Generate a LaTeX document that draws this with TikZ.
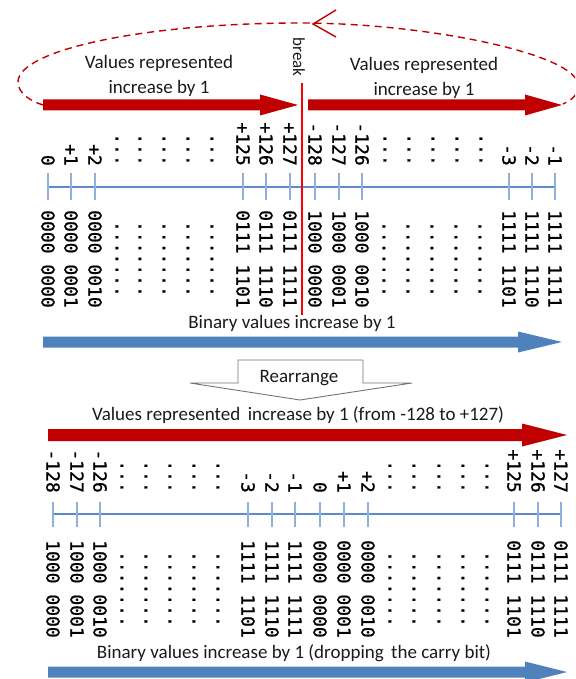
\documentclass[tikz,border=0pt]{standalone}
\usepackage{fontspec}
\setmainfont{Carlito}
\newfontfamily\monof[FakeBold=1]{DejaVu Sans Mono}
\definecolor{darkred}{HTML}{C00000}
\definecolor{brightred}{HTML}{FF0000}
\definecolor{myblue}{HTML}{4F81BD}
\definecolor{axisblue}{HTML}{5B8BC8}
\definecolor{tickblue}{HTML}{8EB0DB}
\definecolor{txtcol}{HTML}{1A1A1A}
\newcommand\myblockarrow[7]{%
  \fill[#7] (#1,#4-#5) -- (#2,#4-#5) -- (#2,#4-#6) -- (#3,#4) -- (#2,#4+#6) -- (#2,#4+#5) -- (#1,#4+#5) -- cycle;}
\begin{document}
\begin{tikzpicture}[x=1pt,y=-1pt,
  lbl/.style={font=\monof\fontsize{18}{18}\selectfont, rotate=-90, inner sep=0pt, text=black},
  txt/.style={font=\fontsize{19}{25}\selectfont, align=center, text=txtcol, inner sep=0pt},
  axisline/.style={draw=axisblue, line width=1.6pt},
  tickline/.style={draw=tickblue, line width=1.4pt},
  loopline/.style={draw=darkred, line width=1.4pt, dash pattern=on 7pt off 5pt},
]
\useasboundingbox (0,0) rectangle (575,679);
\clip (0,0) rectangle (575,679);

% ---------------- top section ----------------
% dashed loop
\coordinate (la) at (43,105);
\coordinate (lb) at (563,104);
\draw[loopline] (la) .. controls (30,101) and (18,93) .. (18,82)
  .. controls (18,50) and (145,23) .. (300,23)
  .. controls (430,23) and (578,55) .. (578,85)
  .. controls (578,95) and (572,100) .. (lb);
\coordinate (lh) at (313,24);
\draw[draw=darkred, line width=1.4pt] (336,10) -- (lh) -- (336,37);

% red arrows
\myblockarrow{43}{260}{298}{105}{5.5}{10.5}{darkred}
\myblockarrow{308}{525}{562}{105}{5.5}{10.5}{darkred}
\node[txt] (vl) at (159,76) {Values represented\\increase by 1};
\node[txt] (vr) at (424,78) {Values represented\\increase by 1};

% number line
\draw[axisline] (48,187) -- (555,187);
\foreach \x in {48,71,95,243,266,290,315,339,362,509,532,555}
  \draw[tickline] (\x,173) -- (\x,200);
\foreach \x/\t in {48/0,71/+1,95/+2,243/+125,266/+126,290/+127,315/-128,339/-127,362/-126,509/-3,532/-2,555/-1}
  \node[lbl,anchor=east] (tl\x) at (\x,166) {\t};
\foreach \x/\t in {48/0000 0000,71/0000 0001,95/0000 0010,243/0111 1101,266/0111 1110,290/0111 1111,315/1000 0000,339/1000 0001,362/1000 0010,509/1111 1101,532/1111 1110,555/1111 1111}
  \node[lbl,anchor=west] (tb\x) at (\x,210) {\t};
\foreach \x in {117,140,164,188,212,385,409,433,457,481}
  \node[lbl,anchor=base east] (td\x) at (\x-1.5,166) {...};
\foreach \x in {117,140,164,188,212,384,408,432,456,480}
  \node[lbl,anchor=base west] (tbd\x) at (\x-1.5,220.8) {.......};

% break line
\coordinate (bt) at (302,83);
\coordinate (bb) at (302,315);
\draw[draw=brightred, line width=1.8pt] (bt) -- (bb);
\node[txt,rotate=-90,font=\fontsize{17}{17}\selectfont] (brk) at (299,57) {break};

\node[txt] (bv) at (292,323) {Binary values increase by 1};
\myblockarrow{43}{518}{562}{342}{5.5}{10.5}{myblue}

% ---------------- rearrange ----------------
\draw[draw=gray!90!black, line width=0.9pt, fill=white]
  (238,360) -- (363,360) -- (363,383) -- (412,383) -- (300,400) -- (190,383) -- (238,383) -- cycle;
\node[txt,anchor=base] (re) at (299,382) {Rearrange};

% ---------------- bottom section ----------------
\node[txt] (vb) at (298,415) {Values represented\, increase by 1 (from -128 to +127)};
\myblockarrow{48}{522}{567}{435}{6}{11.5}{darkred}

\draw[axisline] (53,514) -- (561,514);
\foreach \x in {53,77,100,248,272,295,320,344,368,514,538,561}
  \draw[tickline] (\x,502) -- (\x,527);
\foreach \x/\t in {53/-128,77/-127,100/-126,248/-3,272/-2,295/-1,320/0,344/+1,368/+2,514/+125,538/+126,561/+127}
  \node[lbl,anchor=east] (bl\x) at (\x,493) {\t};
\foreach \x/\t in {53/1000 0000,77/1000 0001,100/1000 0010,248/1111 1101,272/1111 1110,295/1111 1111,320/0000 0000,344/0000 0001,368/0000 0010,514/0111 1101,538/0111 1110,561/0111 1111}
  \node[lbl,anchor=west] (bb\x) at (\x,540) {\t};
\foreach \x in {122,146,170,194,218,390,414,439,463,487}
  \node[lbl,anchor=base east] (bd\x) at (\x-1.5,493) {...};
\foreach \x in {122,146,170,194,218,390,414,439,463,487}
  \node[lbl,anchor=base west] (bbd\x) at (\x-1.5,550.8) {.......};

\node[txt] (bvb) at (294,653) {Binary values increase by 1 (dropping\, the carry bit)};
\myblockarrow{48}{525}{567}{672}{5.5}{10.5}{myblue}
\end{tikzpicture}
\end{document}
